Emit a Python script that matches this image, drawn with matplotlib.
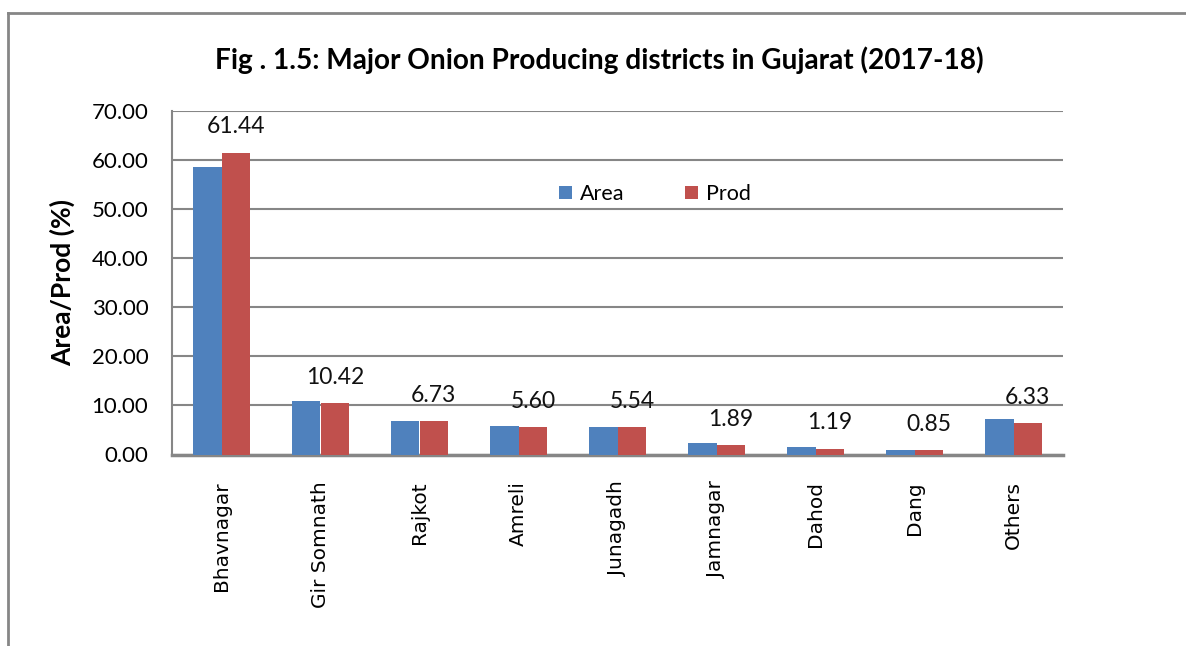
import matplotlib
matplotlib.use("Agg")
import matplotlib.pyplot as plt
import numpy as np
from matplotlib.lines import Line2D

districts = ["Bhavnagar", "Gir Somnath", "Rajkot", "Amreli", "Junagadh",
             "Jamnagar", "Dahod", "Dang", "Others"]
area = [58.6, 10.8, 6.8, 5.8, 5.7, 2.4, 1.6, 1.0, 7.2]
prod = [61.44, 10.42, 6.73, 5.60, 5.54, 1.89, 1.19, 0.85, 6.33]
yticks = [0, 10, 20, 30, 40, 50, 60, 70]

title = "Fig . 1.5: Major Onion Producing districts in Gujarat (2017-18)"
blue = "#4F81BD"
red = "#C0504D"
gridc = "#868686"

W, H = 1186, 646
fig = plt.figure(figsize=(W / 100, H / 100), dpi=100)
ax = fig.add_axes([172 / W, 1 - 454.5 / H, (1063 - 172) / W, (454.5 - 110.7) / H])

x = np.arange(len(districts))
bw = 0.29
ax.bar(x - bw / 2, area, bw, color=blue, label="Area", zorder=3)
ax.bar(x + bw / 2, prod, bw, color=red, label="Prod", zorder=3)

for xi, v in zip(x, prod):
    ax.annotate(f"{v:.2f}", (xi + bw / 2, v), xytext=(0, 11), textcoords="offset points",
                ha="center", va="bottom", fontsize=16.5, family="Lato", color="#111111")

ax.set_xlim(-0.5, len(districts) - 0.5)
ax.set_ylim(0, 70)
ax.set_yticks(yticks)
ax.set_yticklabels([f"{t:.2f}" for t in yticks], family="Lato", fontsize=16)
ax.set_xticks(x)
ax.set_xticklabels(districts, rotation=90, family="DejaVu Sans", fontsize=14.5, va="top")
ax.tick_params(axis="y", length=0, pad=17)
ax.tick_params(axis="x", length=0, pad=19)
ax.yaxis.grid(True, color=gridc, lw=1.5, zorder=0)
ax.set_axisbelow(True)
for s in ["top", "right"]:
    ax.spines[s].set_visible(False)
ax.spines["left"].set_color(gridc)
ax.spines["left"].set_linewidth(1.5)
ax.spines["bottom"].set_color(gridc)
ax.spines["bottom"].set_linewidth(2.5)

ax.set_ylabel("Area/Prod (%)", family="Lato", fontweight="bold", fontsize=19, labelpad=12)

leg = ax.legend(loc="center", bbox_to_anchor=((655 - 172) / 891, (454.5 - 194) / 343.8),
                ncol=2, frameon=False, prop={"family": "Lato", "size": 15.5},
                handlelength=0.6, handleheight=0.6, handletextpad=0.4, columnspacing=2.8)

fig.text(599 / W, 1 - 60 / H, title, ha="center", va="center", family="Lato",
         fontweight="bold", fontsize=20.2)

fig.add_artist(Line2D([8 / W, 8 / W], [0, 1 - 13 / H], transform=fig.transFigure,
                      color=gridc, lw=2))
fig.add_artist(Line2D([8 / W, 1], [1 - 13 / H, 1 - 13 / H], transform=fig.transFigure,
                      color=gridc, lw=2))

fig.savefig("out.png", dpi=100)
